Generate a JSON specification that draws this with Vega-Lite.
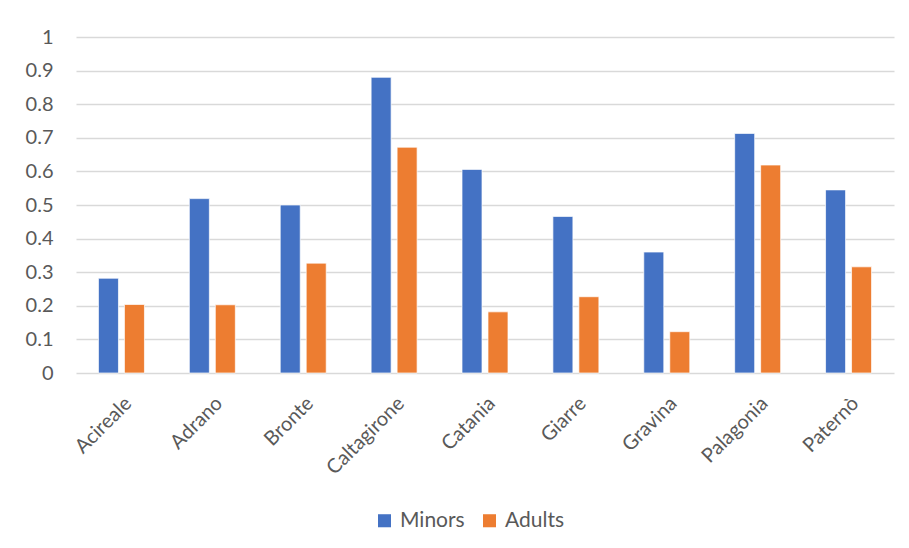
{
  "$schema": "https://vega.github.io/schema/vega-lite/v6.json",
  "autosize": {"type": "none"},
  "width": 818,
  "height": 336,
  "padding": {"left": 76, "top": 37, "right": 15, "bottom": 175},
  "background": "white",
  "data": {
    "values": [
      {"city": "Acireale", "group": "Minors", "value": 0.282},
      {"city": "Acireale", "group": "Adults", "value": 0.204},
      {"city": "Adrano", "group": "Minors", "value": 0.519},
      {"city": "Adrano", "group": "Adults", "value": 0.203},
      {"city": "Bronte", "group": "Minors", "value": 0.500},
      {"city": "Bronte", "group": "Adults", "value": 0.327},
      {"city": "Caltagirone", "group": "Minors", "value": 0.880},
      {"city": "Caltagirone", "group": "Adults", "value": 0.672},
      {"city": "Catania", "group": "Minors", "value": 0.606},
      {"city": "Catania", "group": "Adults", "value": 0.182},
      {"city": "Giarre", "group": "Minors", "value": 0.466},
      {"city": "Giarre", "group": "Adults", "value": 0.227},
      {"city": "Gravina", "group": "Minors", "value": 0.360},
      {"city": "Gravina", "group": "Adults", "value": 0.123},
      {"city": "Palagonia", "group": "Minors", "value": 0.713},
      {"city": "Palagonia", "group": "Adults", "value": 0.619},
      {"city": "Paternò", "group": "Minors", "value": 0.545},
      {"city": "Paternò", "group": "Adults", "value": 0.316}
    ]
  },
  "mark": {"type": "bar", "stroke": "white", "strokeWidth": 0.7},
  "encoding": {
    "x": {
      "field": "city",
      "type": "nominal",
      "sort": null,
      "title": null,
      "scale": {"paddingInner": 0.494, "paddingOuter": 0.247},
      "axis": {
        "labelAngle": -45,
        "labelAlign": "right",
        "labelBaseline": "top",
        "labelPadding": 20,
        "ticks": false,
        "domain": false,
        "grid": false,
        "labelFont": "Lato",
        "labelFontSize": 20,
        "labelColor": "#595959"
      }
    },
    "xOffset": {
      "field": "group",
      "type": "nominal",
      "sort": ["Minors", "Adults"],
      "scale": {"paddingInner": 0.23, "paddingOuter": 0}
    },
    "y": {
      "field": "value",
      "type": "quantitative",
      "title": null,
      "scale": {"domain": [0, 1]},
      "axis": {
        "values": [0, 0.1, 0.2, 0.3, 0.4, 0.5, 0.6, 0.7, 0.8, 0.9, 1],
        "format": "~g",
        "ticks": false,
        "domain": false,
        "labelPadding": 23,
        "labelFont": "Lato",
        "labelFontSize": 20,
        "labelColor": "#595959",
        "gridColor": "#d9d9d9",
        "gridWidth": 1.5
      }
    },
    "color": {
      "field": "group",
      "type": "nominal",
      "sort": ["Minors", "Adults"],
      "scale": {"domain": ["Minors", "Adults"], "range": ["#4472C4", "#ED7D31"]},
      "legend": {
        "title": null,
        "orient": "none",
        "direction": "horizontal",
        "legendX": 298,
        "legendY": 473,
        "symbolType": "square",
        "symbolSize": 170,
        "symbolStrokeWidth": 0,
        "labelFont": "Lato",
        "labelFontSize": 21,
        "labelColor": "#595959",
        "columnPadding": 14,
        "labelOffset": 5
      }
    }
  },
  "config": {"view": {"stroke": null}}
}
